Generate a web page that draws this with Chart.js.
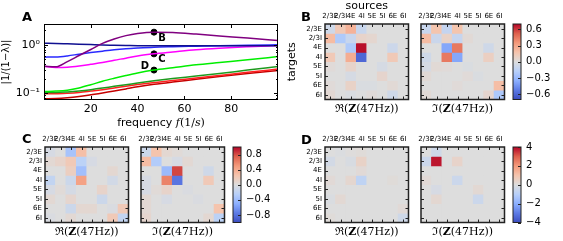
<!DOCTYPE html>
<html>
<head>
<meta charset="utf-8">
<script src="https://cdn.jsdelivr.net/npm/chart.js@4.4.1/dist/chart.umd.min.js"></script>
<style>
  body { margin: 0; background: #fff; width: 563px; height: 241px; position: relative; overflow: hidden; font-family: "DejaVu Sans"; }
  canvas { position: absolute; }
  .panel { position: absolute; font: bold 13px "DejaVu Sans"; line-height: 13px; }
</style>
</head>
<body>
<canvas id="chartA" style="left:0;top:0" width="285" height="130"></canvas>
<canvas id="bRe" style="left:280px;top:0" width="133" height="118"></canvas>
<canvas id="bIm" style="left:376px;top:0" width="133" height="118"></canvas>
<canvas id="bCb" style="left:512px;top:0" width="51" height="118"></canvas>
<canvas id="cRe" style="left:0;top:123px" width="133" height="118"></canvas>
<canvas id="cIm" style="left:96px;top:123px" width="133" height="118"></canvas>
<canvas id="cCb" style="left:232px;top:123px" width="51" height="118"></canvas>
<canvas id="dRe" style="left:280px;top:123px" width="133" height="118"></canvas>
<canvas id="dIm" style="left:376px;top:123px" width="133" height="118"></canvas>
<canvas id="dCb" style="left:512px;top:123px" width="51" height="118"></canvas>
<div class="panel" style="left:22px;top:10px">A</div>
<div class="panel" style="left:301px;top:10px">B</div>
<div class="panel" style="left:22px;top:132px">C</div>
<div class="panel" style="left:301px;top:133px">D</div>
<script>
// ---- panel A : spectra of the eigenvalues ----
const freqs = [0, 5, 10, 15, 20, 25, 30, 35, 40, 47, 55, 65, 75, 87, 100];
const purple  = [0.36, 0.35, 0.45, 0.60, 0.80, 1.07, 1.32, 1.55, 1.72, 1.83, 1.80, 1.67, 1.53, 1.38, 1.23];
const navy    = [1.08, 1.07, 1.05, 1.03, 1.01, 0.99, 0.98, 0.97, 0.96, 0.96, 0.96, 0.96, 0.96, 0.96, 0.96];
const blue    = [0.556, 0.56, 0.59, 0.64, 0.69, 0.74, 0.79, 0.83, 0.86, 0.895, 0.915, 0.935, 0.955, 0.975, 1.0];
const magenta = [0.36, 0.34, 0.345, 0.365, 0.395, 0.43, 0.48, 0.53, 0.59, 0.65, 0.71, 0.79, 0.85, 0.91, 0.97];
const lime    = [0.108, 0.110, 0.115, 0.128, 0.149, 0.176, 0.203, 0.232, 0.262, 0.30, 0.335, 0.385, 0.43, 0.49, 0.57];
const green   = [0.103, 0.103, 0.106, 0.111, 0.118, 0.127, 0.138, 0.149, 0.162, 0.18, 0.20, 0.225, 0.255, 0.30, 0.355];
const red     = [0.097, 0.097, 0.099, 0.103, 0.11, 0.118, 0.128, 0.139, 0.15, 0.165, 0.183, 0.205, 0.232, 0.27, 0.314];
const darkRed = [0.076, 0.077, 0.08, 0.085, 0.092, 0.10, 0.11, 0.122, 0.135, 0.152, 0.17, 0.193, 0.22, 0.255, 0.295];
const markerFreq = 47;
const markerLabels = ['B', 'C', 'D'];
const markerValues = [1.83, 0.65, 0.30];
const freqTicks = [20, 40, 60, 80];
const yTicks = [0.08, 0.09, 0.1, 0.2, 0.3, 0.4, 0.5, 0.6, 0.7, 0.8, 0.9, 1, 2];

// ---- panels B, C, D : matrices Z(47Hz) ----
const populations = ['2/3E', '2/3I', '4E', '4I', '5E', '5I', '6E', '6I'];
const bMax = 0.7, cMax = 1.0, dMax = 4;
const bTicks = [0.6, 0.3, 0, -0.3, -0.6];
const cTicks = [0.8, 0.4, 0, -0.4, -0.8];
const dTicks = [4, 2, 0, -2, -4];
const bReal = [
  [-0.07, 0.14, 0.25, -0.10, 0, 0, 0, 0],
  [0.21, -0.21, -0.10, 0.07, 0.05, 0, 0, 0],
  [0, 0, -0.21, 0.68, 0, 0, -0.08, 0],
  [0.14, 0, 0.27, -0.60, 0, 0, 0.14, 0],
  [0.02, 0, 0.07, 0, 0, -0.04, 0, 0],
  [0, 0, -0.04, 0, 0, 0.06, 0, 0],
  [0.02, 0, 0.08, -0.02, -0.02, 0, 0.03, 0],
  [0.04, 0, -0.02, 0, 0.02, 0, -0.07, 0],
];
const bImag = [
  [-0.10, 0.17, -0.12, 0.17, 0, 0, 0, 0],
  [0.21, -0.09, 0.08, -0.11, 0.03, 0, 0, 0],
  [0, 0, -0.38, 0.45, 0, 0, -0.07, 0],
  [-0.07, 0, 0.45, -0.38, 0, 0, 0.10, 0],
  [-0.04, 0.03, 0.02, 0, -0.02, 0, 0, 0],
  [0.03, 0, 0, 0, 0.02, -0.02, 0, 0],
  [0, 0, 0, 0.02, 0, 0, 0, 0.20],
  [0.03, 0, 0, 0, 0, 0, 0.06, -0.22],
];
const cReal = [
  [-0.05, 0, -0.35, 0.28, 0, 0, 0, 0],
  [0.05, 0.1, 0.2, -0.22, -0.05, 0, 0, 0],
  [0, 0, 0.15, -0.38, 0, 0, 0.06, 0],
  [-0.18, 0, -0.12, 0.45, 0, 0, -0.08, 0],
  [-0.05, 0.03, -0.06, 0, 0, 0.1, 0, 0],
  [0.05, 0, 0.08, 0, 0, -0.12, 0, 0],
  [0, 0, -0.12, 0.06, 0.06, 0, -0.03, 0.2],
  [-0.03, 0, 0.05, 0, 0, 0, 0.2, -0.18],
];
const cImag = [
  [-0.12, 0.25, 0.06, 0.03, 0, 0, 0, 0],
  [0.3, -0.28, 0, -0.05, 0.05, 0, 0, 0],
  [0, 0, -0.42, 0.82, 0, 0, -0.1, 0],
  [-0.05, 0, 0.6, -0.78, 0, 0, 0.2, 0],
  [-0.05, 0.03, 0.1, 0, -0.03, 0, 0, 0],
  [0.05, 0, -0.05, 0, 0, -0.03, 0, 0],
  [0.05, 0, 0, 0, 0, 0, 0, 0.25],
  [0.08, 0, 0, 0, 0, 0, 0.06, -0.22],
];
const dReal = [
  [0, -0.08, 0.05, 0.1, 0, 0, 0, 0],
  [-0.3, 0, -0.15, 0.45, 0, 0, 0, 0],
  [0, 0, 0, 0.15, 0, 0, 0, 0],
  [0.15, 0, 0.3, -0.8, 0, 0, 0.1, 0],
  [0, 0, 0, 0, 0, 0, 0, 0],
  [-0.1, 0.2, 0, 0, 0, 0, 0, 0],
  [0, 0, 0, 0, 0, 0, 0, 0.15],
  [0.1, 0, 0, 0, 0, 0, 0, -0.4],
];
const dImag = [
  [0, -0.4, 0, 0, 0, 0, 0, 0],
  [-0.5, 3.8, 0, 0.4, 0, 0, 0, 0],
  [0, 0, 0, 0, 0, 0, 0, 0],
  [0.15, 0, 0, -0.5, 0, 0, 0, 0],
  [0, -0.2, 0, 0, 0, 0.2, 0, 0],
  [0, 0.25, 0, 0, 0, -0.5, 0, 0],
  [0, 0, 0, 0, 0, 0, 0, 0],
  [0, 0, 0, 0, 0, 0, 0, 0],
];

Chart.defaults.font.family = '"DejaVu Sans"';
Chart.defaults.color = '#000';

// no grid, no outside tick marks: ticks are drawn inward by the plugins
const noGrid = { display: false, drawTicks: false, tickLength: 0 };

// coolwarm colour map, t in [-1, 1]
const cmapStops = [[59,76,192],[93,123,229],[141,176,254],[184,208,249],[221,221,221],
                   [245,196,173],[244,154,123],[222,96,77],[180,4,38]];
function coolwarm(t) {
  const u = Math.max(0, Math.min(1, (t + 1) / 2)) * 8;
  const i = Math.min(7, Math.floor(u)), f = u - i;
  const a = cmapStops[i], b = cmapStops[i + 1];
  return 'rgb(' + a.map((c, k) => Math.round(c + (b[k] - c) * f)).join(',') + ')';
}

// draw a label made of pieces with different fonts, centred on cx
function drawRich(ctx, parts, cx, cy) {
  let w = 0;
  parts.forEach(p => { ctx.font = p.f; w += ctx.measureText(p.t).width; });
  let x = cx - w / 2;
  ctx.textBaseline = 'middle'; ctx.textAlign = 'left'; ctx.fillStyle = '#000';
  parts.forEach(p => { ctx.font = p.f; ctx.fillText(p.t, x, cy); x += ctx.measureText(p.t).width; });
}

const serif = '11px "DejaVu Serif"', serifBold = 'bold 11px "DejaVu Serif"';
const reLabel = [{ t: 'ℜ(', f: serif }, { t: 'Z', f: serifBold }, { t: '(47Hz))', f: serif }];
const imLabel = [{ t: 'ℑ(', f: serif }, { t: 'Z', f: serifBold }, { t: '(47Hz))', f: serif }];
const freqLabel = [{ t: 'frequency ', f: '11px "DejaVu Sans"' }, { t: 'f', f: 'italic 11px "DejaVu Serif"' },
                   { t: '(1/', f: '11px "DejaVu Serif"' }, { t: 's', f: 'italic 11px "DejaVu Serif"' },
                   { t: ')', f: '11px "DejaVu Serif"' }];

// frame, inward ticks and point labels of panel A
const panelAFrame = {
  id: 'panelAFrame',
  afterDatasetsDraw(chart) {
    const { ctx, chartArea: a, scales: { x, y } } = chart;
    ctx.save();
    ctx.strokeStyle = '#000'; ctx.lineWidth = 1;
    ctx.beginPath();
    freqTicks.forEach(v => {
      const px = Math.round(x.getPixelForValue(v)) + 0.5;
      ctx.moveTo(px, a.bottom); ctx.lineTo(px, a.bottom - 4);
      ctx.moveTo(px, a.top); ctx.lineTo(px, a.top + 4);
    });
    yTicks.forEach(v => {
      const py = Math.round(y.getPixelForValue(v)) + 0.5;
      const len = (v === 1 || v === 0.1) ? 4 : 2;
      ctx.moveTo(a.left, py); ctx.lineTo(a.left + len, py);
      ctx.moveTo(a.right, py); ctx.lineTo(a.right - len, py);
    });
    ctx.stroke();
    ctx.strokeRect(a.left + 0.5, a.top + 0.5, a.width - 1, a.height - 1);
    const meta = chart.getDatasetMeta(chart.data.datasets.length - 1);
    const offs = [[8, 6], [8, 6], [-9, -4]];
    ctx.font = 'bold 10px "DejaVu Sans"'; ctx.textAlign = 'center'; ctx.textBaseline = 'middle'; ctx.fillStyle = '#000';
    meta.data.forEach((pt, i) => ctx.fillText(markerLabels[i], pt.x + offs[i][0], pt.y + offs[i][1]));
    ctx.restore();
    drawRich(ctx, freqLabel, (a.left + a.right) / 2, 123);
  }
};

const lineSeries = [
  { data: purple, color: '#800080' },
  { data: navy, color: '#101090' },
  { data: blue, color: '#2a2aff' },
  { data: magenta, color: '#ff00ff' },
  { data: lime, color: '#00ee00' },
  { data: green, color: '#1e9a1e' },
  { data: red, color: '#ff2020' },
  { data: darkRed, color: '#c40000' },
];

new Chart(document.getElementById('chartA'), {
  type: 'line',
  data: {
    datasets: lineSeries.map(s => ({
      data: freqs.map((f, i) => ({ x: f, y: s.data[i] })),
      borderColor: s.color,
      borderWidth: 1.5,
      pointRadius: 0,
      cubicInterpolationMode: 'monotone',
    })).concat([{
      type: 'scatter',
      data: markerValues.map(v => ({ x: markerFreq, y: v })),
      pointRadius: 3,
      backgroundColor: '#000',
      borderColor: '#000',
    }]),
  },
  options: {
    responsive: false,
    animation: false,
    layout: { padding: { left: 0, top: 24, right: 7, bottom: 0 } },
    plugins: { legend: { display: false }, tooltip: { enabled: false } },
    scales: {
      x: {
        type: 'linear', min: 0, max: 100,
        grid: noGrid, border: { display: false },
        afterBuildTicks: s => { s.ticks = freqTicks.map(v => ({ value: v })); },
        ticks: { font: { size: 11 }, padding: 3, maxRotation: 0 },
        afterFit: s => { s.height = 30; },
      },
      y: {
        type: 'logarithmic', min: 0.072, max: 2.7,
        grid: noGrid, border: { display: false },
        afterBuildTicks: s => { s.ticks = yTicks.map(v => ({ value: v })); },
        ticks: {
          autoSkip: false, font: { size: 11 }, padding: 4,
          callback: v => (v === 1 ? '10⁰' : v === 0.1 ? '10⁻¹' : ''),
        },
        title: { display: true, text: '|1/(1−λ)|', font: { size: 10 }, padding: 0 },
        afterFit: s => { s.width = 44; },
      },
    },
  },
  plugins: [panelAFrame],
});

// grey background, frame, inward ticks and bottom label of a matrix
const matrixFrame = {
  id: 'matrixFrame',
  beforeDatasetsDraw(chart) {
    const { ctx, chartArea: a } = chart;
    ctx.save(); ctx.fillStyle = coolwarm(0); ctx.fillRect(a.left, a.top, a.width, a.height); ctx.restore();
  },
  afterDatasetsDraw(chart, args, opts) {
    const { ctx, chartArea: a, scales: { x, y } } = chart;
    ctx.save();
    ctx.strokeStyle = '#222'; ctx.lineWidth = 1;
    ctx.beginPath();
    populations.forEach((p, i) => {
      const px = Math.round(x.getPixelForValue(i)) + 0.5;
      ctx.moveTo(px, a.top); ctx.lineTo(px, a.top + 3);
      ctx.moveTo(px, a.bottom); ctx.lineTo(px, a.bottom - 3);
      const py = Math.round(y.getPixelForValue(i + 0.5)) + 0.5;
      ctx.moveTo(a.left, py); ctx.lineTo(a.left + 3, py);
      ctx.moveTo(a.right, py); ctx.lineTo(a.right - 3, py);
    });
    ctx.stroke();
    ctx.lineWidth = 1.5;
    ctx.strokeRect(a.left, a.top, a.width, a.height);
    ctx.restore();
    drawRich(ctx, opts.label, (a.left + a.right) / 2, a.bottom + 10);
  }
};

function matrixChart(id, values, vmax, label, showRows, showTitles) {
  return new Chart(document.getElementById(id), {
    type: 'bar',
    data: {
      labels: populations,
      datasets: values.map((row, i) => ({
        label: populations[i],
        data: row.map(() => 1),
        backgroundColor: row.map(v => coolwarm(v / vmax)),
        borderWidth: 0,
        barPercentage: 1,
        categoryPercentage: 1,
      })),
    },
    options: {
      responsive: false,
      animation: false,
      layout: { padding: { left: 0, top: 0, right: 4.5, bottom: 18.5 } },
      plugins: { legend: { display: false }, tooltip: { enabled: false }, matrixFrame: { label } },
      scales: {
        x: {
          position: 'top', stacked: true,
          grid: noGrid, border: { display: false },
          ticks: { autoSkip: false, maxRotation: 0, font: { size: 7 }, padding: 4 },
          title: { display: showTitles, text: 'sources', font: { size: 11 }, padding: 0 },
          afterFit: s => { s.height = 24; },
        },
        y: {
          stacked: true, reverse: true, min: 0, max: 8,
          grid: noGrid, border: { display: false },
          afterBuildTicks: s => { s.ticks = populations.map((p, i) => ({ value: i + 0.5 })); },
          ticks: { display: showRows, autoSkip: false, font: { size: 7 }, padding: 3,
                   callback: (v, i) => populations[i] },
          title: { display: showTitles, text: 'targets', font: { size: 11 }, padding: { top: 6, bottom: 0 } },
          afterFit: s => { s.width = 45; },
        },
      },
    },
    plugins: [matrixFrame],
  });
}

// colour bar drawn as one floating bar filled with the colour map
const cbarFrame = {
  id: 'cbarFrame',
  afterDatasetsDraw(chart) {
    const { ctx, chartArea: a, scales: { y } } = chart;
    ctx.save();
    ctx.strokeStyle = '#222'; ctx.lineWidth = 1;
    ctx.beginPath();
    y.ticks.forEach(t => {
      const py = Math.round(y.getPixelForValue(t.value)) + 0.5;
      ctx.moveTo(a.right, py); ctx.lineTo(a.right - 3, py);
    });
    ctx.stroke();
    ctx.strokeRect(a.left, a.top, a.width, a.height);
    ctx.restore();
  }
};

function colorbarChart(id, vmax, tickVals, decimals) {
  return new Chart(document.getElementById(id), {
    type: 'bar',
    data: {
      labels: [''],
      datasets: [{
        data: [[-vmax, vmax]],
        backgroundColor: c => {
          const chart = c.chart, y = chart.scales.y;
          if (!chart.chartArea || !y) return coolwarm(0);
          const g = chart.ctx.createLinearGradient(0, y.getPixelForValue(-vmax), 0, y.getPixelForValue(vmax));
          for (let k = 0; k <= 16; k++) g.addColorStop(k / 16, coolwarm(-1 + k / 8));
          return g;
        },
        borderWidth: 0,
        barPercentage: 1,
        categoryPercentage: 1,
      }],
    },
    options: {
      responsive: false,
      animation: false,
      layout: { padding: { left: 1, top: 24, right: 12, bottom: 18.5 } },
      plugins: { legend: { display: false }, tooltip: { enabled: false } },
      scales: {
        x: { display: false },
        y: {
          position: 'right', min: -vmax, max: vmax,
          grid: noGrid, border: { display: false },
          afterBuildTicks: s => { s.ticks = tickVals.map(v => ({ value: v })); },
          ticks: { font: { size: 10 }, padding: 5, autoSkip: false,
                   callback: v => v.toFixed(decimals).replace('-', '\u2212') },
          afterFit: s => { s.width = 30; },
        },
      },
    },
    plugins: [cbarFrame],
  });
}

matrixChart('bRe', bReal, bMax, reLabel, true, true);
matrixChart('bIm', bImag, bMax, imLabel, false, false);
colorbarChart('bCb', bMax, bTicks, 1);
matrixChart('cRe', cReal, cMax, reLabel, true, false);
matrixChart('cIm', cImag, cMax, imLabel, false, false);
colorbarChart('cCb', cMax, cTicks, 1);
matrixChart('dRe', dReal, dMax, reLabel, true, false);
matrixChart('dIm', dImag, dMax, imLabel, false, false);
colorbarChart('dCb', dMax, dTicks, 0);
</script>
</body>
</html>
